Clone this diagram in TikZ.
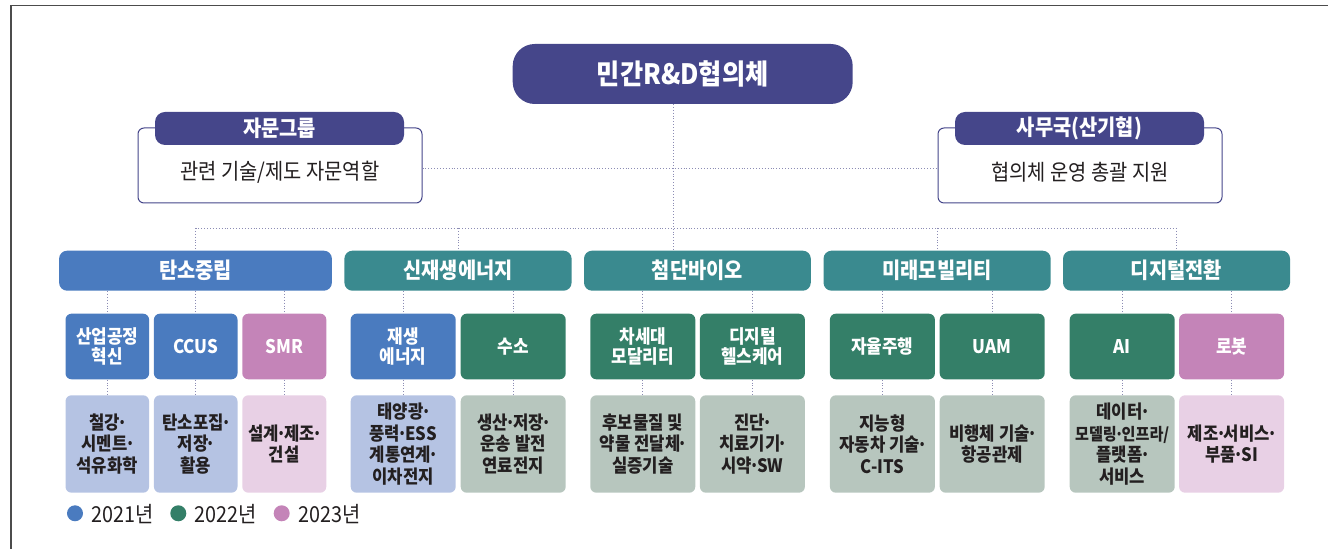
\documentclass[tikz,border=0pt]{standalone}
\usepackage{fontspec}
\setmainfont{Noto Sans CJK KR}[FakeStretch=0.9]

\definecolor{hubpurple}{HTML}{45468A}
\definecolor{blue21}{HTML}{4A7BBF}
\definecolor{green22}{HTML}{347F68}
\definecolor{pink23}{HTML}{C484B8}
\definecolor{catteal}{HTML}{3A8A8F}
\definecolor{lightblue}{HTML}{B5C3E3}
\definecolor{lightgreen}{HTML}{B7C6BE}
\definecolor{lightpink}{HTML}{E8D0E5}
\definecolor{linkcol}{HTML}{8C8CB4}
\definecolor{textdark}{HTML}{231F20}

% 幅の狭い中点
\newcommand{\kdot}{\kern-.13em·\kern-.13em}

\begin{document}
\begin{tikzpicture}[x=0.5pt, y=-0.5pt,
    box/.style={rounded corners=3pt, inner sep=0pt, align=center},
    headbox/.style={box, rounded corners=5pt, fill=hubpurple, text=white,
        minimum width=124.5pt, minimum height=16.5pt,
        font=\fontsize{11}{12}\selectfont\bfseries},
    bodybox/.style={box, draw=hubpurple, line width=0.5pt, fill=white,
        minimum width=142pt, minimum height=37.5pt},
    bodytext/.style={inner sep=0pt, text=textdark,
        font=\fontsize{11}{12}\selectfont},
    catbox/.style={box, rounded corners=4pt, text=white,
        minimum height=20pt, font=\fontsize{11}{12}\selectfont\bfseries},
    techbox/.style={box, text=white, minimum width=52.5pt, minimum height=32.8pt,
        font=\fontsize{9.4}{10}\selectfont\bfseries},
    itembox/.style={box, text=textdark, minimum width=52.5pt, minimum height=48.7pt,
        font=\fontsize{9.25}{10.8}\selectfont\bfseries},
    link/.style={draw=linkcol, densely dotted, line width=0.45pt},
    legdot/.style={circle, inner sep=0pt, minimum size=8pt},
    legtext/.style={anchor=west, inner sep=0pt, text=textdark,
        font=\fontsize{11}{12}\selectfont}]

    % 範囲
    \useasboundingbox (0,0) rectangle (1328,549);

    % 枠
    \draw[black!70, line width=0.8pt] (11,549) -- (11,5.5) -- (1328,5.5);

    % 協議会
    \node[box, rounded corners=11pt, fill=hubpurple, text=white,
        minimum width=170pt, minimum height=30pt,
        font=\fontsize{14}{16}\selectfont\bfseries] (hub) at (682.7,74) {민간R\&D협의체};

    % 諮問グループと事務局
    \node[bodybox] (advBody) at (280,165.5) {};
    \node[bodybox] (secBody) at (1080,165.5) {};
    \node[headbox] (advHead) at (279.5,128.5) {자문그룹};
    \node[headbox] (secHead) at (1079.5,128.5) {사무국(산기협)};
    \node[bodytext] (advText) at (280,172) {관련 기술/제도 자문역할};
    \node[bodytext] (secText) at (1080,172) {협의체 운영 총괄 지원};

    % 分野
    \node[catbox, fill=blue21, minimum width=136.4pt] (carbon) at (195.5,270.7) {탄소중립};
    \node[catbox, fill=catteal, minimum width=113.6pt] (renew) at (458,270.7) {신재생에너지};
    \node[catbox, fill=catteal, minimum width=113.4pt] (bio) at (697.4,270.7) {첨단바이오};
    \node[catbox, fill=catteal, minimum width=113.6pt] (mobil) at (937.1,270.7) {미래모빌리티};
    \node[catbox, fill=catteal, minimum width=113.5pt] (digital) at (1176.5,270.7) {디지털전환};

    % 技術
    \node[techbox, fill=blue21, minimum width=41.8pt] (proc) at (107.3,346.5) {산업공정\\혁신};
    \node[techbox, fill=blue21, minimum width=41.8pt] (ccus) at (195.7,346.5) {CCUS};
    \node[techbox, fill=pink23, minimum width=42pt] (smr) at (284.3,346.5) {SMR};
    \node[techbox, fill=blue21] (solar) at (403.2,346.5) {재생\\에너지};
    \node[techbox, fill=green22] (hydro) at (513.2,346.5) {수소};
    \node[techbox, fill=green22] (modal) at (642.8,346.5) {차세대\\모달리티};
    \node[techbox, fill=green22] (health) at (752.4,346.5) {디지털\\헬스케어};
    \node[techbox, fill=green22] (auto) at (882.4,346.5) {자율주행};
    \node[techbox, fill=green22] (uam) at (992.2,346.5) {UAM};
    \node[techbox, fill=green22] (ai) at (1122.2,346.5) {AI};
    \node[techbox, fill=pink23] (robot) at (1231.6,346.5) {로봇};

    % 詳細
    \node[itembox, fill=lightblue, minimum width=41.8pt] (dproc) at (107.3,444) {철강\kdot\\시멘트\kdot\\석유화학};
    \node[itembox, fill=lightblue, minimum width=41.8pt] (dccus) at (195.7,444) {탄소포집\kdot\\저장\kdot\\활용};
    \node[itembox, fill=lightpink, minimum width=42pt] (dsmr) at (284.3,444) {설계\kdot 제조\kdot\\건설};
    \node[itembox, fill=lightblue] (dsolar) at (403.2,444) {태양광\kdot\\풍력\kdot ESS\\계통연계\kdot\\이차전지};
    \node[itembox, fill=lightgreen] (dhydro) at (513.2,444) {생산\kdot 저장\kdot\\운송 발전\\연료전지};
    \node[itembox, fill=lightgreen] (dmodal) at (642.8,444) {후보물질 및\\약물 전달체\kdot\\실증기술};
    \node[itembox, fill=lightgreen] (dhealth) at (752.4,444) {진단\kdot\\치료기기\kdot\\시약\kdot SW};
    \node[itembox, fill=lightgreen] (dauto) at (882.4,444) {지능형\\자동차 기술\kdot\\C-ITS};
    \node[itembox, fill=lightgreen] (duam) at (992.2,444) {비행체 기술\kdot\\항공관제};
    \node[itembox, fill=lightgreen] (dai) at (1122.2,444) {데이터\kdot\\{\fontsize{8.4}{10.8}\selectfont 모델링\kdot 인프라/}\\플랫폼\kdot\\서비스};
    \node[itembox, fill=lightpink] (drobot) at (1231.6,444) {제조\kdot 서비스\kdot\\부품\kdot SI};

    % 線
    \coordinate (trunk) at (673.3,104);
    \coordinate (bus) at (0,228);
    \draw[link] (trunk) -- (trunk |- bio.north);
    \draw[link] ([yshift=-1.25pt]advBody.east) -- ([yshift=-1.25pt]secBody.west);
    \draw[link] (carbon.north |- bus) -- (digital.north |- bus);
    \foreach \cat in {carbon,renew,mobil,digital}
        \draw[link] (\cat.north |- bus) -- (\cat.north);
    \foreach \sub/\cat in {proc/carbon, ccus/carbon, smr/carbon, solar/renew, hydro/renew,
            modal/bio, health/bio, auto/mobil, uam/mobil, ai/digital, robot/digital} {
        \draw[link] (\sub.north |- \cat.south) -- (\sub.north);
        \draw[link] (\sub.south) -- (d\sub.north);
    }

    % 凡例
    \node[legdot, fill=blue21] (dot21) at (75,513.3) {};
    \node[legtext] (txt21) at (90.7,514) {2021년};
    \node[legdot, fill=green22] (dot22) at (178.3,513.3) {};
    \node[legtext] (txt22) at (194,514) {2022년};
    \node[legdot, fill=pink23] (dot23) at (281.7,513.3) {};
    \node[legtext] (txt23) at (298,514) {2023년};

\end{tikzpicture}
\end{document}
